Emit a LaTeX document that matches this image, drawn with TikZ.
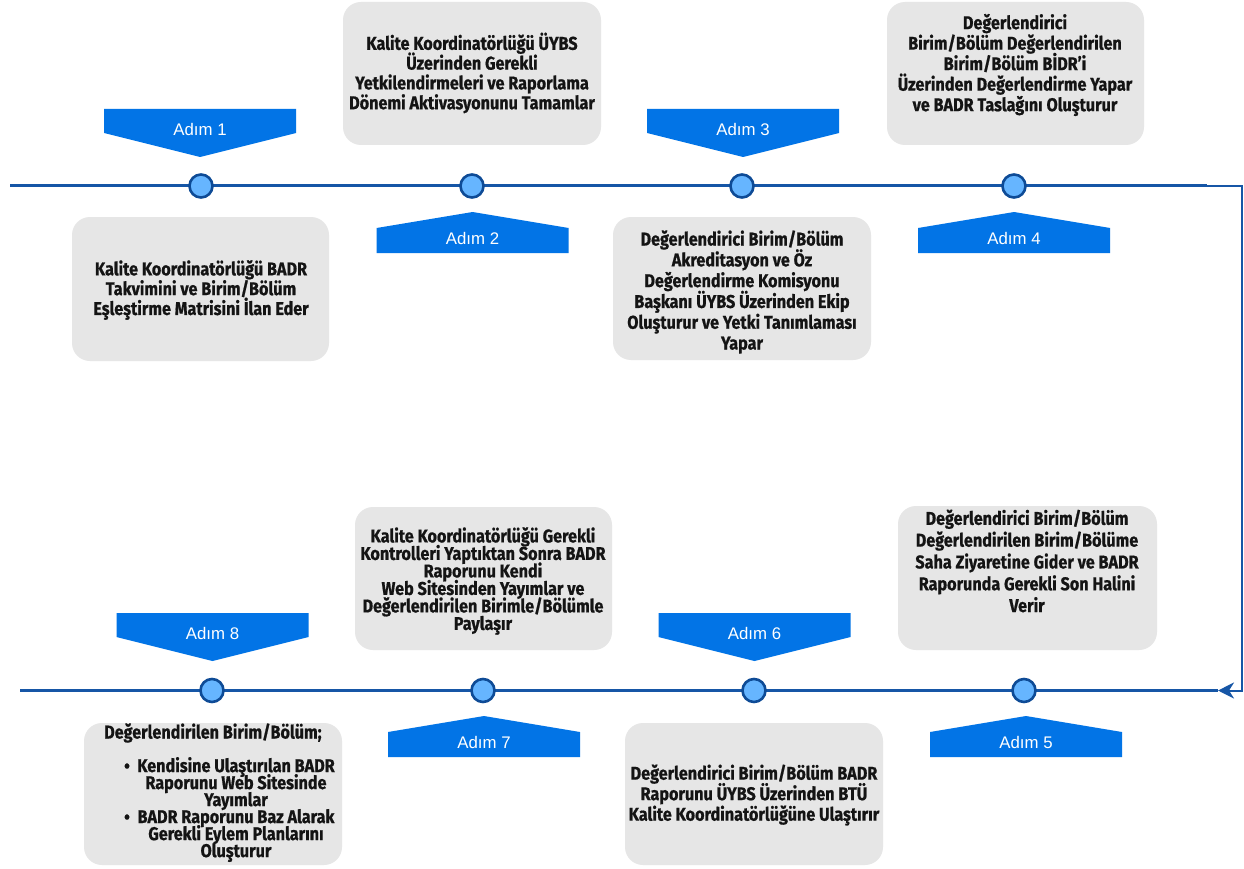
\documentclass[tikz,border=0pt]{standalone}
\usepackage{fontspec}
\setmainfont{Liberation Sans}
\newfontfamily\boxfont[FakeStretch=0.875, BoldFeatures={FakeBold=0.8}]{Fira Sans}
\usetikzlibrary{arrows.meta}
\definecolor{linecol}{HTML}{1656A6}
\definecolor{dotfill}{HTML}{66B5FF}
\definecolor{dotline}{HTML}{0E4B96}
\definecolor{bannercol}{HTML}{0274E6}
\definecolor{greycol}{HTML}{E6E6E6}
\definecolor{textcol}{HTML}{141414}
\tikzset{
  mainline/.style={draw=linecol, line width=3pt},
  connline/.style={draw=linecol, line width=2pt},
  dotnode/.style={circle, fill=dotfill, draw=dotline, line width=2.6pt, minimum size=23pt, inner sep=0pt},
  greybox/.style={rectangle, rounded corners=18pt, fill=greycol, draw=none, inner sep=0pt},
  boxtext/.style={align=center, text=textcol, inner sep=0pt, font=\boxfont\bfseries\fontsize{18.5}{19.8}\selectfont},
  bannertext/.style={text=white, inner sep=0pt, font=\fontsize{16.8}{18}\selectfont},
  bannershape/.style={fill=bannercol, draw=none}
}
\newcommand\bannerdown[4]{% name, cx, top y, text
  \fill[bannershape] ({#2-96},#3) -- ({#2+96},#3) -- ({#2+96},{#3+24}) -- (#2,{#3+48}) -- ({#2-96},{#3+24}) -- cycle;
  \node[bannertext] (#1) at (#2,{#3+20}) {#4};
}
\newcommand\bannerup[4]{% name, cx, apex y, text
  \fill[bannershape] (#2,#3) -- ({#2+96},{#3+16}) -- ({#2+96},{#3+41}) -- ({#2-96},{#3+41}) -- ({#2-96},{#3+16}) -- cycle;
  \node[bannertext] (#1) at (#2,{#3+26}) {#4};
}
\setlength{\lineskiplimit}{-50pt}
\begin{document}
\begin{tikzpicture}[x=1pt,y=-1pt]
\useasboundingbox (0,0) rectangle (1244,869);
\fill[white] (0,0) rectangle (1244,869);

% grey boxes
\node[greybox, minimum width=257pt, minimum height=144pt] (g1) at (200.5,289) {};
\node[greybox, minimum width=258pt, minimum height=143pt] (g2) at (472,73.5) {};
\node[greybox, minimum width=258pt, minimum height=143pt] (g3) at (742,288.5) {};
\node[greybox, minimum width=257pt, minimum height=143pt] (g4) at (1015.5,73.5) {};
\node[greybox, minimum width=259pt, minimum height=144pt] (g5) at (1027.5,578) {};
\node[greybox, minimum width=258pt, minimum height=142pt] (g6) at (754,794) {};
\node[greybox, minimum width=257pt, minimum height=143pt] (g7) at (483.5,578.5) {};
\node[greybox, minimum width=258pt, minimum height=142pt] (g8) at (213,794) {};

% box texts
\node[boxtext] (t1) at (201,290) {Kalite Koordinatörlüğü BADR\\Takvimini ve Birim/Bölüm\\Eşleştirme Matrisini İlan Eder};
\node[boxtext] (t2) at (472,73) {Kalite Koordinatörlüğü ÜYBS\\Üzerinden Gerekli\\Yetkilendirmeleri ve Raporlama\\Dönemi Aktivasyonunu Tamamlar};
\node[boxtext, font=\boxfont\bfseries\fontsize{18.5}{20.8}\selectfont] (t3) at (742,292) {Değerlendirici Birim/Bölüm\\Akreditasyon ve Öz\\Değerlendirme Komisyonu\\Başkanı ÜYBS Üzerinden Ekip\\Oluşturur ve Yetki Tanımlaması\\Yapar};
\node[boxtext, font=\boxfont\bfseries\fontsize{18.5}{20.5}\selectfont] (t4) at (1015,65) {Değerlendirici\\Birim/Bölüm Değerlendirilen\\Birim/Bölüm BİDR’i\\Üzerinden Değerlendirme Yapar\\ve BADR Taslağını Oluşturur};
\node[boxtext, font=\boxfont\bfseries\fontsize{18.5}{21.8}\selectfont] (t5) at (1027,561) {Değerlendirici Birim/Bölüm\\Değerlendirilen Birim/Bölüme\\Saha Ziyaretine Gider ve BADR\\Raporunda Gerekli Son Halini\\Verir};
\node[boxtext, font=\boxfont\bfseries\fontsize{18.5}{20.5}\selectfont] (t6) at (754,795) {Değerlendirici Birim/Bölüm BADR\\Raporunu ÜYBS Üzerinden BTÜ\\Kalite Koordinatörlüğüne Ulaştırır};
\node[boxtext, font=\boxfont\bfseries\fontsize{18.5}{17.5}\selectfont] (t7) at (483,581) {Kalite Koordinatörlüğü Gerekli\\Kontrolleri Yaptıktan Sonra BADR\\Raporunu Kendi\\Web Sitesinden Yayımlar ve\\Değerlendirilen Birimle/Bölümle\\Paylaşır};
\node[boxtext, anchor=west] (t8h) at (104,733) {Değerlendirilen Birim/Bölüm;};
\node[boxtext, font=\boxfont\bfseries\fontsize{18.5}{17}\selectfont] (t8) at (236,809.5) {Kendisine Ulaştırılan BADR\\Raporunu Web Sitesinde\\Yayımlar\\BADR Raporunu Baz Alarak\\Gerekli Eylem Planlarını\\Oluşturur};
\node[boxtext, font=\boxfont\bfseries\fontsize{19}{19}\selectfont] (bu1) at (127,768) {•};
\node[boxtext, font=\boxfont\bfseries\fontsize{19}{19}\selectfont] (bu2) at (127,819) {•};

% lines
\coordinate (tl) at (10,186);
\coordinate (tr) at (1207,186);
\coordinate (rc1) at (1242,186);
\coordinate (rc2) at (1242,690.5);
\coordinate (br) at (1218,690.5);
\coordinate (bl) at (20,690.5);
\draw[mainline] (tl) -- (tr);
\draw[mainline] (bl) -- (br);
\draw[connline, -{Stealth[length=16pt,width=16pt,inset=5pt]}] (tr) -- (rc1) -- (rc2) -- (br);

% dots
\node[dotnode] (c1) at (201,186) {};
\node[dotnode] (c2) at (472,186) {};
\node[dotnode] (c3) at (742,186) {};
\node[dotnode] (c4) at (1014,186) {};
\node[dotnode] (c8) at (212,690.5) {};
\node[dotnode] (c7) at (483,690.5) {};
\node[dotnode] (c6) at (754,690.5) {};
\node[dotnode] (c5) at (1024,690.5) {};

% banners
\bannerdown{b1}{200}{109}{Adım 1}
\bannerup{b2}{472.5}{212}{Adım 2}
\bannerdown{b3}{743}{109}{Adım 3}
\bannerup{b4}{1014}{212}{Adım 4}
\bannerdown{b8}{212.5}{613}{Adım 8}
\bannerup{b7}{484}{716}{Adım 7}
\bannerdown{b6}{754.5}{613}{Adım 6}
\bannerup{b5}{1026}{716}{Adım 5}
\end{tikzpicture}
\end{document}
